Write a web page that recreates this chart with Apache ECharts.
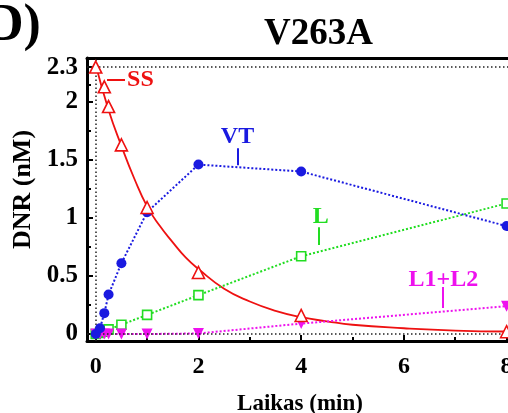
<!DOCTYPE html>
<html><head><meta charset="utf-8">
<script src="https://cdn.jsdelivr.net/npm/echarts@6/dist/echarts.min.js"></script>
<style>html,body{margin:0;padding:0;background:#fff}#c{width:508px;height:413px}</style>
</head><body><div id="c"></div>
<script>
// ---- data ----
const time   = [0, 0.083, 0.167, 0.25, 0.5, 1, 2, 4, 8];
const ssVals = [2.30, null, 2.13, 1.96, 1.63, 1.09, 0.53, 0.16, 0.02];
const vtVals = [0.00, 0.05, 0.18, 0.34, 0.61, 1.05, 1.46, 1.40, 0.93];
const lVals  = [0.00, 0.01, 0.02, 0.04, 0.08, 0.165, 0.335, 0.67, 1.125];
const l12Vals= [0.00, 0.00, 0.00, 0.00, 0.00, 0.00, 0.005, 0.09, 0.24];
// fitted SS curve
const ssFitTime = [0, 0.25, 0.5, 0.75, 1, 1.25, 1.5, 1.75, 2, 2.5, 3, 3.5, 4, 4.5, 5, 6, 7, 8];
const ssFitVals = [2.32, 1.93, 1.62, 1.34, 1.10, 0.93, 0.79, 0.66, 0.56, 0.39, 0.28, 0.20, 0.145, 0.11, 0.08, 0.05, 0.03, 0.022];
const xTickLabels = [0, 2, 4, 6, 8];
const xMinorTicks = [1, 3, 5, 7];
const yTickLabels = [0, 0.5, 1, 1.5, 2, 2.3];
const yMinorTicks = [0.25, 0.75, 1.25, 1.75, 2.15];
// annotations: [name, textX, textY, lineX1, lineY1, lineX2, lineY2]
const annotations = [
  ['SS',    0.61, 2.19, 0.22, 2.19, 0.57, 2.19],
  ['VT',    2.76, 1.70, 2.77, 1.60, 2.77, 1.455],
  ['L',     4.38, 1.01, 4.35, 0.92, 4.35, 0.767],
  ['L1+L2', 6.77, 0.465, 6.76, 0.405, 6.76, 0.224]
];
const colors = {SS:'#ee1111', VT:'#1a1ae0', L:'#22dd22', 'L1+L2':'#ee11ee'};

const F = 'Liberation Serif';
const pair = (vals) => time.map((t, i) => [t, vals[i]]).filter(p => p[1] !== null);
const chart = echarts.init(document.getElementById('c'), null, {renderer: 'canvas'});
const XMIN = -0.17, XMAX = 8.3, YMIN = -0.06, YMAX = 2.378;
const lbl = {fontFamily: F, fontWeight: 'bold', fontSize: 24, color: '#000'};
const option = {
  animation: false,
  title: [
    {text: 'V263A', left: 259, top: 11, textStyle: {fontFamily: F, fontWeight: 'bold', fontSize: 37, color: '#000'}},
    {text: 'D)', left: -19, top: -4, textStyle: {fontFamily: F, fontWeight: 'bold', fontSize: 52, color: '#000'}}
  ],
  grid: {left: 87, top: 58, width: 435, height: 283, containLabel: false, outerBoundsMode: 'none'},
  xAxis: [
    {type: 'value', min: XMIN, max: XMAX, position: 'bottom',
     axisLine: {show: true, onZero: false, lineStyle: {color: '#000', width: 3}},
     axisTick: {show: true, inside: true, length: 6, lineStyle: {color: '#000', width: 2}, customValues: xTickLabels},
     axisLabel: Object.assign({customValues: xTickLabels, margin: 14}, lbl),
     splitLine: {show: false},
     name: 'Laikas (min)', nameLocation: 'middle', nameGap: 52,
     nameTextStyle: {fontFamily: F, fontWeight: 'bold', fontSize: 23, color: '#000', padding: [0, 9, 0, 0]}},
    {type: 'value', min: XMIN, max: XMAX, position: 'bottom', offset: 0,
     axisLine: {show: false, onZero: false},
     axisTick: {show: true, inside: true, length: 4, lineStyle: {color: '#000', width: 2}, customValues: xMinorTicks},
     axisLabel: {show: false}, splitLine: {show: false}},
    {type: 'value', min: XMIN, max: XMAX, position: 'top',
     axisLine: {show: true, onZero: false, lineStyle: {color: '#000', width: 3}},
     axisTick: {show: false}, axisLabel: {show: false}, splitLine: {show: false}}
  ],
  yAxis: [
    {type: 'value', min: YMIN, max: YMAX, position: 'left',
     axisLine: {show: true, onZero: false, lineStyle: {color: '#000', width: 3}},
     axisTick: {show: true, inside: true, length: 6, lineStyle: {color: '#000', width: 2}, customValues: yTickLabels},
     axisLabel: Object.assign({customValues: yTickLabels, margin: 9}, lbl, {fontSize: 25}),
     splitLine: {show: false},
     name: 'DNR (nM)', nameLocation: 'middle', nameGap: 46,
     nameTextStyle: {fontFamily: F, fontWeight: 'bold', fontSize: 26, color: '#000', padding: [0, 0, 0, 20]}},
    {type: 'value', min: YMIN, max: YMAX, position: 'left', offset: 0,
     axisLine: {show: false, onZero: false},
     axisTick: {show: true, inside: true, length: 4, lineStyle: {color: '#000', width: 2}, customValues: yMinorTicks},
     axisLabel: {show: false}, splitLine: {show: false}}
  ],
  series: [
    {name: 'ref', type: 'line', data: [], silent: true,
     markLine: {silent: true, symbol: 'none', label: {show: false},
       lineStyle: {type: [1.5, 2.5], color: '#222', width: 1.5},
       data: [{yAxis: 2.3}, {yAxis: 0}, {xAxis: 0}]}},
    {name: 'SS fit', type: 'line', smooth: true, showSymbol: false, z: 3,
     data: ssFitTime.map((t, i) => [t, ssFitVals[i]]),
     lineStyle: {color: colors.SS, width: 1.8}},
    {name: 'SS', type: 'scatter', symbol: 'triangle', symbolSize: 12, z: 6, data: pair(ssVals),
     itemStyle: {color: '#fff', borderColor: colors.SS, borderWidth: 1.6, opacity: 1}},
    {name: 'VT', type: 'line', symbol: 'circle', symbolSize: 10, showAllSymbol: true, z: 5, data: pair(vtVals),
     lineStyle: {color: colors.VT, width: 2, type: [2, 2]},
     itemStyle: {color: colors.VT, borderWidth: 0, opacity: 1}},
    {name: 'L', type: 'line', symbol: 'rect', symbolSize: 9, showAllSymbol: true, z: 4, data: pair(lVals),
     lineStyle: {color: colors.L, width: 2, type: [2, 2]},
     itemStyle: {color: '#fff', borderColor: colors.L, borderWidth: 1.6, opacity: 1}},
    {name: 'L1+L2', type: 'line', symbol: 'triangle', symbolRotate: 180, symbolSize: 11, showAllSymbol: true, z: 4, data: pair(l12Vals),
     lineStyle: {color: colors['L1+L2'], width: 2, type: [2, 2]},
     itemStyle: {color: colors['L1+L2'], borderWidth: 0, opacity: 1}},
    {name: 'leaders', type: 'lines', coordinateSystem: 'cartesian2d', silent: true, z: 5,
     data: annotations.map(a => ({coords: [[a[3], a[4]], [a[5], a[6]]], lineStyle: {color: colors[a[0]], width: 2, opacity: 1}}))}
  ]
};
chart.setOption(option);
const g = annotations.map(a => {
  const p = chart.convertToPixel({gridIndex: 0}, [a[1], a[2]]);
  return {type: 'text', x: p[0], y: p[1], z: 10,
    style: {text: a[0], fill: colors[a[0]], font: 'bold 24px "Liberation Serif"',
      align: a[0] === 'SS' ? 'left' : 'center', verticalAlign: 'middle'}};
});
chart.setOption({graphic: g});
</script></body></html>
